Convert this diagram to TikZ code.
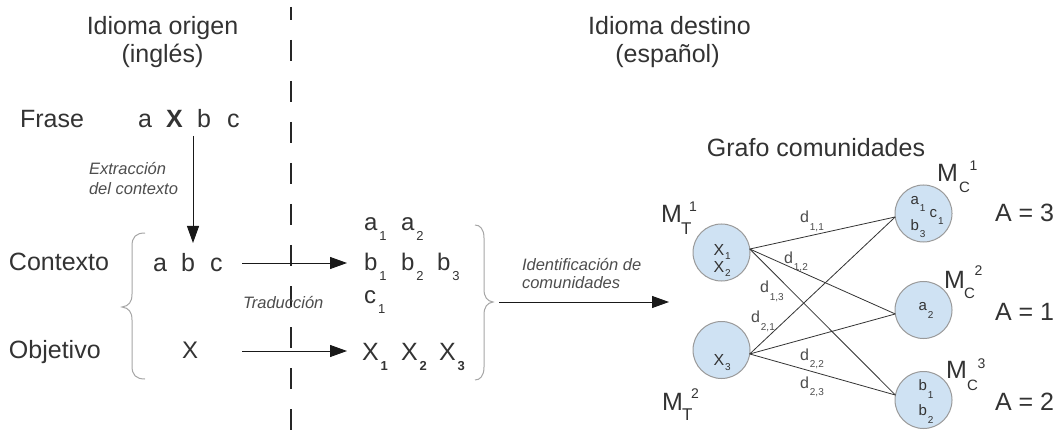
\documentclass[tikz,border=0pt]{standalone}
\usepackage{fontspec}
\setmainfont{Liberation Sans}
\usetikzlibrary{arrows.meta}
\definecolor{txt}{HTML}{333333}
\definecolor{itx}{HTML}{4D4D4D}
\definecolor{cfill}{HTML}{CFE2F3}
\definecolor{cdraw}{HTML}{9A9A9A}
\definecolor{brc}{HTML}{A6A6A6}
\newcommand\fs[1]{\fontsize{#1}{#1}\selectfont}
\newcommand\subM[1]{\kern2pt\raisebox{-10pt}{\fs{13}#1}}
\newcommand\subS[2]{\kern1pt\raisebox{-#1}{\fs{10}#2}}
\begin{document}
\begin{tikzpicture}[x=1pt,y=-1pt,
  every node/.style={inner sep=0pt, outer sep=0pt, text=txt},
  bigtxt/.style={font=\fs{25}},
  ital/.style={font=\fs{16.5}\itshape, text=itx},
  midtok/.style={font=\fs{24}, anchor=base west},
  smalltok/.style={font=\fs{15}, anchor=base west},
  lbl/.style={anchor=base west},
  arr/.style={-{Triangle[length=17pt,width=12pt]}, line width=1pt, draw=black!90},
  brace/.style={draw=brc, line width=1pt},
  comm/.style={circle, draw=cdraw, fill=cfill, line width=1pt, minimum size=57pt},
  link/.style={draw=txt, line width=0.8pt},
]
\fill[white] (0,0) rectangle (1059,430);
\useasboundingbox (0,0) rectangle (1059,430);

% dashed separator
\coordinate (dtop) at (291,7);
\coordinate (dbot) at (291,430);
\draw[line width=1.2pt, draw=black!85, dash pattern=on 21pt off 20pt, dash phase=8pt] (dtop) -- (dbot);

% headings
\node[bigtxt, anchor=base] (ho1) at (162.5,35) {Idioma origen};
\node[bigtxt, anchor=base] (ho2) at (162.5,62.5) {(inglés)};
\node[bigtxt, anchor=base] (hd1) at (669.5,35) {Idioma destino};
\node[bigtxt, anchor=base] (hd2) at (667.5,62.5) {(español)};

% Frase
\node[bigtxt, lbl] (frase) at (20,128) {Frase};
\node[bigtxt, lbl] (fa) at (138,128) {a};
\node[bigtxt, lbl, font=\fs{25}\bfseries] (fx) at (166,128) {X};
\node[bigtxt, lbl] (fb) at (197,128) {b};
\node[bigtxt, lbl] (fc) at (227,128) {c};

\node[ital, lbl] (ex1) at (89,175) {Extracción};
\node[ital, lbl] (ex2) at (89,195) {del contexto};
\coordinate (v1) at (193,136);
\coordinate (v2) at (193,243);
\draw[arr] (v1) -- (v2);

% Contexto / Objetivo
\node[bigtxt, lbl] (ctx) at (9,270) {Contexto};
\node[bigtxt, lbl] (ca) at (153,271) {a};
\node[bigtxt, lbl] (cb) at (181,271) {b};
\node[bigtxt, lbl] (cc) at (210,271) {c};
\node[bigtxt, lbl] (obj) at (9,358) {Objetivo};
\node[lbl, font=\fs{24}] (ox) at (182,358) {X};

\draw[brace] (145,233) .. controls (136,233) and (132,237) .. (132,246) -- (132,294)
  .. controls (132,302) and (129,306) .. (122,307)
  .. controls (129,308) and (132,312) .. (132,320) -- (132,366)
  .. controls (132,375) and (136,379) .. (145,379);

\coordinate (ca1) at (242,263);
\coordinate (ca2) at (347,263);
\coordinate (oa1) at (242,351);
\coordinate (oa2) at (347,351);
\draw[arr] (ca1) -- (ca2);
\draw[arr] (oa1) -- (oa2);
\node[ital, lbl] (trad) at (243,308) {Traducción};

% translations
\node[midtok] (a1) at (364,230) {a\subM{1}};
\node[midtok] (a2) at (401,230) {a\subM{2}};
\node[midtok] (b1) at (364,270) {b\subM{1}};
\node[midtok] (b2) at (401,270) {b\subM{2}};
\node[midtok] (b3) at (437,270) {b\subM{3}};
\node[midtok] (c1t) at (364,303) {c\subM{1}};
\node[midtok, font=\fs{25}] (x1) at (362,360) {X\subM{\bfseries 1}};
\node[midtok, font=\fs{25}] (x2) at (401,360) {X\subM{\bfseries 2}};
\node[midtok, font=\fs{25}] (x3) at (439,360) {X\subM{\bfseries 3}};

\draw[brace] (475,225) .. controls (480,225) and (484,229) .. (484,238) -- (484,289)
  .. controls (484,297) and (487,301) .. (493,302)
  .. controls (487,303) and (484,307) .. (484,315) -- (484,367)
  .. controls (484,376) and (480,380) .. (475,380);

\node[ital, lbl] (id1) at (522,270) {Identificación de};
\node[ital, lbl] (id2) at (522,288) {comunidades};
\coordinate (ia1) at (499,302);
\coordinate (ia2) at (669,302);
\draw[arr] (ia1) -- (ia2);

% graph
\node[bigtxt, anchor=base] (gt) at (816,157) {Grafo comunidades};
\node[comm] (t1) at (721.5,252.5) {};
\node[comm] (t2) at (721.5,350) {};
\node[comm] (c1) at (923.5,213.5) {};
\node[comm] (c2) at (923.5,310) {};
\node[comm] (c3) at (923.5,400) {};

\draw[link] (t1.7) -- (c1.187);
\draw[link] (t1.7) -- (c2.188);
\draw[link] (t1.7) -- (c3.170);
\draw[link] (t2.352) -- (c1.187);
\draw[link] (t2.352) -- (c2.188);
\draw[link] (t2.352) -- (c3.170);

% circle contents
\node[lbl, font=\fs{16}] (t1a) at (713.5,255) {X\subS{4pt}{1}};
\node[lbl, font=\fs{16}] (t1b) at (713.5,272) {X\subS{4pt}{2}};
\node[lbl, font=\fs{16}] (t2a) at (713.5,365) {X\subS{5pt}{3}};
\node[smalltok] (c1a) at (910.5,205) {a\subS{7pt}{1}};
\node[smalltok] (c1c) at (929.5,218) {c\subS{7pt}{1}};
\node[smalltok] (c1b) at (910.5,230) {b\subS{7pt}{3}};
\node[smalltok] (c2a) at (918.5,310) {a\subS{8pt}{2}};
\node[smalltok] (c3a) at (918.5,390) {b\subS{8pt}{1}};
\node[smalltok] (c3b) at (918.5,415) {b\subS{8pt}{2}};

% distance labels
\node[smalltok, font=\fs{16}, text=itx] (d11) at (800,223) {d\subS{7pt}{1,1}};
\node[smalltok, font=\fs{16}, text=itx] (d12) at (784,263) {d\subS{7pt}{1,2}};
\node[smalltok, font=\fs{16}, text=itx] (d13) at (760,292) {d\subS{8pt}{1,3}};
\node[smalltok, font=\fs{16}, text=itx] (d21) at (751,322) {d\subS{8pt}{2,1}};
\node[smalltok, font=\fs{16}, text=itx] (d22) at (800,360) {d\subS{7pt}{2,2}};
\node[smalltok, font=\fs{16}, text=itx] (d23) at (800,388) {d\subS{7pt}{2,3}};

% M labels
\node[bigtxt, lbl] (mt1) at (661,223) {M};
\node[lbl, font=\fs{17}] (mt1s) at (681,235) {T};
\node[lbl, font=\fs{14}] (mt1p) at (689,212) {1};
\node[bigtxt, lbl] (mt2) at (662,410) {M};
\node[lbl, font=\fs{17}] (mt2s) at (682,420) {T};
\node[lbl, font=\fs{14}] (mt2p) at (691,398) {2};
\node[bigtxt, lbl] (mc1) at (937,182) {M};
\node[lbl, font=\fs{15}] (mc1s) at (959,193) {C};
\node[lbl, font=\fs{14}] (mc1p) at (969.5,171) {1};
\node[bigtxt, lbl] (mc2) at (944,288) {M};
\node[lbl, font=\fs{15}] (mc2s) at (964,298) {C};
\node[lbl, font=\fs{14}] (mc2p) at (974.5,275) {2};
\node[bigtxt, lbl] (mc3) at (946,378) {M};
\node[lbl, font=\fs{15}] (mc3s) at (967,390) {C};
\node[lbl, font=\fs{14}] (mc3p) at (977.5,368) {3};

% A values
\node[bigtxt, lbl] (av1) at (995,222) {A = 3};
\node[bigtxt, lbl] (av2) at (995,320) {A = 1};
\node[bigtxt, lbl] (av3) at (995,410) {A = 2};
\end{tikzpicture}
\end{document}
